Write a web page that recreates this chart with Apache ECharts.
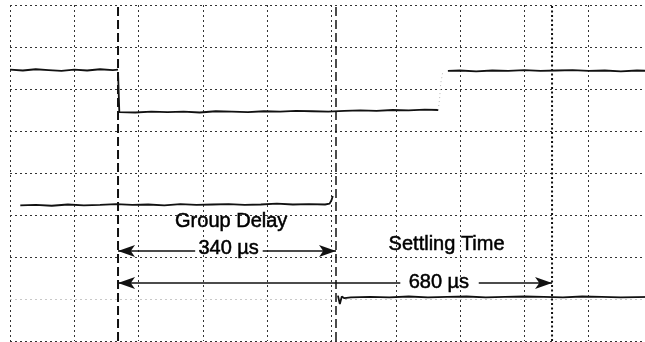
<!DOCTYPE html>
<html>
<head>
<meta charset="utf-8">
<script src="https://cdn.jsdelivr.net/npm/echarts@6/dist/echarts.min.js"></script>
<style>
  html, body { margin: 0; padding: 0; background: #fff; overflow: hidden; width: 645px; height: 342px; }
  /* the graticule's last division runs past the visible right edge */
  #chart { width: 653px; height: 342px; }
</style>
</head>
<body>
<div id="chart"></div>
<script>
// Time axis in microseconds (100 µs per division), vertical axis in divisions.
const timeMin = 0, timeMax = 1000, timeStep = 100;
const levelMin = 0, levelMax = 8, levelStep = 1;

// Input step: high level before the step, low level after it
const inHighTime = [0, 20, 40, 60, 80, 100, 120, 140, 160, 168];
const inHighLevel = [6.46, 6.44, 6.47, 6.45, 6.43, 6.46, 6.44, 6.47, 6.45, 6.46];
const inLowTime = [168, 170, 195, 220, 245, 270, 295, 320, 345, 370, 395, 420, 445, 470, 495, 520, 545, 570, 595, 620, 645, 666];
const inLowLevel = [6.40, 5.45, 5.44, 5.46, 5.45, 5.46, 5.44, 5.47, 5.46, 5.45, 5.47, 5.46, 5.48, 5.47, 5.46, 5.48, 5.49, 5.48, 5.50, 5.49, 5.51, 5.50];
const inRiseTime = [666, 668, 670, 673];
const inRiseLevel = [5.50, 5.75, 6.15, 6.40];
const inHigh2Time = [681, 700, 725, 750, 775, 800, 825, 850, 875, 900, 925, 950, 975, 1000];
const inHigh2Level = [6.43, 6.44, 6.42, 6.44, 6.43, 6.45, 6.43, 6.44, 6.45, 6.43, 6.44, 6.42, 6.44, 6.43];

// Delayed output trace
const delayTime = [16, 40, 65, 90, 115, 140, 165, 190, 215, 240, 265, 290, 315, 340, 365, 390, 415, 440, 465, 490, 497, 500, 502];
const delayLevel = [3.23, 3.24, 3.22, 3.25, 3.23, 3.24, 3.26, 3.24, 3.25, 3.23, 3.26, 3.24, 3.25, 3.26, 3.24, 3.25, 3.27, 3.25, 3.26, 3.25, 3.27, 3.35, 3.45];

// Settled output trace
const settleTime = [510, 513, 516, 520, 530, 560, 590, 620, 650, 680, 710, 740, 770, 800, 830, 860, 890, 920, 950, 1000];
const settleLevel = [1.08, 0.88, 1.06, 1.02, 1.04, 1.05, 1.04, 1.06, 1.04, 1.05, 1.06, 1.04, 1.05, 1.06, 1.05, 1.04, 1.06, 1.05, 1.04, 1.05];

// Cursor positions (µs)
const cursorStart = 168;
const cursorDelay = 507;
const cursorSettle = 843;

// Dimension arrows: [head time, tail time, level]
const arrowHeads = [168, 507, 168, 843];
const arrowTails = [288, 393, 607, 729];
const arrowLevels = [2.14, 2.14, 1.38, 1.38];

// Annotation text
const noteText = ['Group Delay', '340 µs', 'Settling Time', '680 µs'];
const noteTime = [344, 340, 679, 667];
const noteLevel = [2.845, 2.20, 2.30, 1.39];

const pairs = (xs, ys) => xs.map((x, i) => [x, ys[i]]);
const traceStyle = { color: '#111', width: 1.8 };
const trace = (xs, ys, style) => ({
  type: 'line', data: pairs(xs, ys), symbol: 'none', silent: true,
  lineStyle: style || traceStyle, z: 5
});
const cursor = (t, style) => ({
  type: 'line', data: [[t, levelMin], [t, levelMax]], symbol: 'none', silent: true,
  lineStyle: style, z: 4
});

// The 1-division graticule line is printed faintly
const gridColorsY = ['#333', '#c8c8c8', '#333', '#333', '#333', '#333', '#333', '#333', '#333'];

const chart = echarts.init(document.getElementById('chart'), null, { renderer: 'canvas' });
chart.setOption({
  animation: false,
  backgroundColor: '#fff',
  grid: { left: 10, top: 5, right: 0, bottom: 1, outerBoundsMode: 'none' },
  xAxis: {
    type: 'value', min: timeMin, max: timeMax, interval: timeStep,
    axisLine: { show: false }, axisTick: { show: false }, axisLabel: { show: false },
    splitLine: { show: true, lineStyle: { color: '#333', width: 1, type: [2, 3] } }
  },
  yAxis: {
    type: 'value', min: levelMin, max: levelMax, interval: levelStep,
    axisLine: { show: false }, axisTick: { show: false }, axisLabel: { show: false },
    splitLine: { show: true, lineStyle: { color: gridColorsY, width: 1, type: [2, 3] } }
  },
  series: [
    cursor(cursorStart, { color: '#111', width: 2, type: [9, 4] }),
    cursor(cursorDelay, { color: '#111', width: 1.5, type: [9, 4] }),
    cursor(cursorSettle, { color: '#111', width: 2, type: [2, 2.5] }),
    trace(inHighTime, inHighLevel),
    trace(inLowTime, inLowLevel),
    trace(inRiseTime, inRiseLevel, { color: '#bbb', width: 1, type: [1, 3] }),
    trace(inHigh2Time, inHigh2Level),
    trace(delayTime, delayLevel),
    trace(settleTime, settleLevel),
    {
      type: 'line', data: [], silent: true,
      markLine: {
        silent: true, animation: false,
        symbol: ['arrow', 'none'], symbolSize: [9, 17],
        label: { show: false },
        lineStyle: { color: '#111', width: 1.6, type: 'solid' },
        data: arrowHeads.map((h, i) => [
          { coord: [h, arrowLevels[i]] },
          { coord: [arrowTails[i], arrowLevels[i]] }
        ])
      }
    },
    {
      type: 'scatter', symbolSize: 0, silent: true, z: 6,
      itemStyle: { opacity: 1 },
      data: noteText.map((t, i) => ({ value: [noteTime[i], noteLevel[i]], name: t })),
      label: {
        show: true, position: 'inside', formatter: p => p.name,
        color: '#000', fontSize: 20, fontFamily: 'Liberation Sans, Arial, sans-serif',
        textBorderColor: '#000', textBorderWidth: 0.5
      }
    }
  ]
});
</script>
</body>
</html>
